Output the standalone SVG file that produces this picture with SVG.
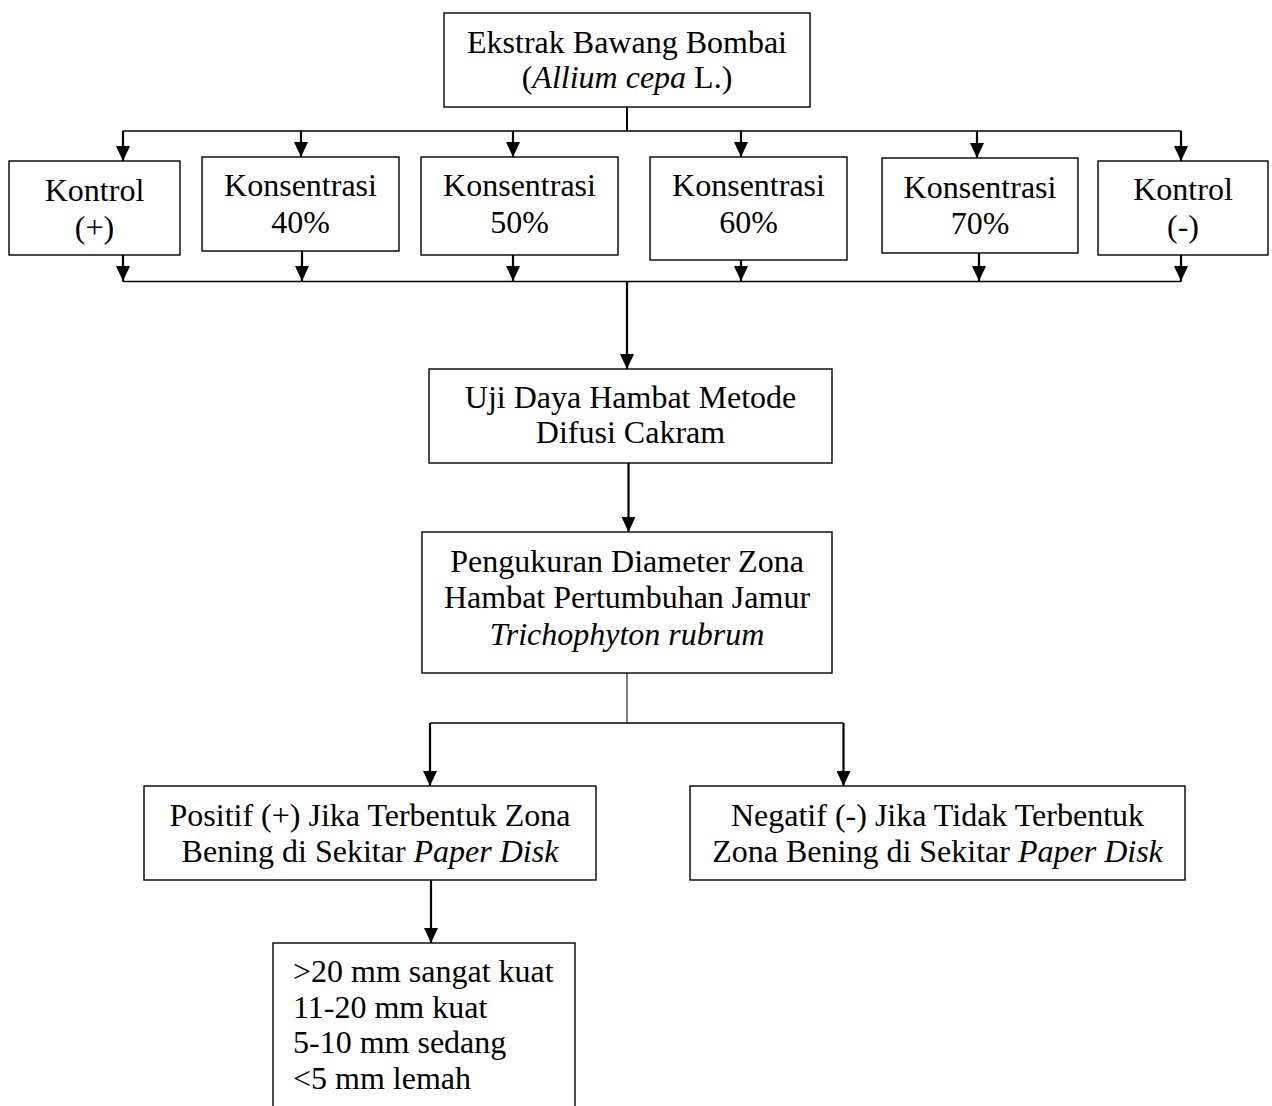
<svg xmlns="http://www.w3.org/2000/svg" width="1272" height="1106" viewBox="0 0 1272 1106">
<style>
  .box { fill: #ffffff; stroke: #000000; stroke-width: 1.4; }
  .t { font-family: "Liberation Serif", "Times New Roman", serif; font-size: 32px; fill: #000000; }
  .c { text-anchor: middle; }
  .i { font-style: italic; }
  .ln { fill: none; stroke: #000000; stroke-width: 1.4; }
  .ar { fill: none; stroke: #000000; stroke-width: 2.2; marker-end: url(#ah); }
</style>
<defs>
  <marker id="ah" viewBox="0 0 15 14" refX="15" refY="7" markerWidth="15" markerHeight="14" markerUnits="userSpaceOnUse" orient="auto">
    <path d="M0,0 L15,7 L0,14 Z" fill="#000000"/>
  </marker>
</defs>
<rect width="1272" height="1106" fill="#ffffff"/>

<g id="connectors">
  <line class="ln" x1="627" y1="107" x2="627" y2="131" style="stroke-width:2"/>
  <line class="ln" x1="122.5" y1="131" x2="1181.5" y2="131"/>
  <line class="ar" x1="123" y1="131" x2="123" y2="161"/>
  <line class="ar" x1="301" y1="131" x2="301" y2="157"/>
  <line class="ar" x1="513" y1="131" x2="513" y2="157"/>
  <line class="ar" x1="741" y1="131" x2="741" y2="157"/>
  <line class="ar" x1="977" y1="131" x2="977" y2="158"/>
  <line class="ar" x1="1181" y1="131" x2="1181" y2="161"/>
  <line class="ar" x1="123" y1="255" x2="123" y2="281"/>
  <line class="ar" x1="302" y1="251" x2="302" y2="281"/>
  <line class="ar" x1="513" y1="255" x2="513" y2="281"/>
  <line class="ar" x1="741" y1="260" x2="741" y2="281"/>
  <line class="ar" x1="979" y1="253" x2="979" y2="281"/>
  <line class="ar" x1="1181" y1="255" x2="1181" y2="281"/>
  <line class="ln" x1="122.5" y1="281.5" x2="1181.5" y2="281.5"/>
  <line class="ar" x1="627" y1="281" x2="627" y2="369"/>
  <line class="ar" x1="628.5" y1="463" x2="628.5" y2="532"/>
  <line class="ln" x1="627" y1="673" x2="627" y2="723" style="stroke-width:1"/>
  <line class="ln" x1="430" y1="723" x2="843.5" y2="723"/>
  <line class="ar" x1="430" y1="723" x2="430" y2="786"/>
  <line class="ar" x1="843.5" y1="723" x2="843.5" y2="786"/>
  <line class="ar" x1="431" y1="880" x2="431" y2="943"/>
</g>

<g id="node-ekstrak">
  <rect class="box" x="444" y="13" width="366" height="94"/>
  <text class="t c" x="627" y="53">Ekstrak Bawang Bombai</text>
  <text class="t c" x="627" y="88">(<tspan class="i">Allium cepa</tspan> L.)</text>
</g>

<g id="node-kontrol-pos">
  <rect class="box" x="9" y="161" width="171" height="94"/>
  <text class="t c" x="94.5" y="201">Kontrol</text>
  <text class="t c" x="94.5" y="238">(+)</text>
</g>

<g id="node-k40">
  <rect class="box" x="202" y="157" width="197" height="94"/>
  <text class="t c" x="300.5" y="196">Konsentrasi</text>
  <text class="t c" x="300.5" y="233">40%</text>
</g>

<g id="node-k50">
  <rect class="box" x="421" y="157" width="197" height="98"/>
  <text class="t c" x="519.5" y="196">Konsentrasi</text>
  <text class="t c" x="519.5" y="233">50%</text>
</g>

<g id="node-k60">
  <rect class="box" x="650" y="157" width="197" height="103"/>
  <text class="t c" x="748.5" y="196">Konsentrasi</text>
  <text class="t c" x="748.5" y="233">60%</text>
</g>

<g id="node-k70">
  <rect class="box" x="882" y="158" width="196" height="95"/>
  <text class="t c" x="980" y="198">Konsentrasi</text>
  <text class="t c" x="980" y="234">70%</text>
</g>

<g id="node-kontrol-neg">
  <rect class="box" x="1098" y="161" width="170" height="94"/>
  <text class="t c" x="1183" y="200">Kontrol</text>
  <text class="t c" x="1183" y="237">(-)</text>
</g>

<g id="node-uji">
  <rect class="box" x="429" y="369" width="403" height="94"/>
  <text class="t c" x="630.5" y="408">Uji Daya Hambat Metode</text>
  <text class="t c" x="630.5" y="443">Difusi Cakram</text>
</g>

<g id="node-pengukuran">
  <rect class="box" x="422" y="532" width="410" height="141"/>
  <text class="t c" x="627" y="572">Pengukuran Diameter Zona</text>
  <text class="t c" x="627" y="608">Hambat Pertumbuhan Jamur</text>
  <text class="t c i" x="627" y="645">Trichophyton rubrum</text>
</g>

<g id="node-positif">
  <rect class="box" x="144" y="786" width="452" height="94"/>
  <text class="t c" x="370" y="826">Positif (+) Jika Terbentuk Zona</text>
  <text class="t c" x="370" y="862">Bening di Sekitar <tspan class="i">Paper Disk</tspan></text>
</g>

<g id="node-negatif">
  <rect class="box" x="690" y="786" width="495" height="94"/>
  <text class="t c" x="937.5" y="826">Negatif (-) Jika Tidak Terbentuk</text>
  <text class="t c" x="937.5" y="862">Zona Bening di Sekitar <tspan class="i">Paper Disk</tspan></text>
</g>

<g id="node-kategori">
  <rect class="box" x="273" y="943" width="302" height="200"/>
  <text class="t" x="293" y="982">&gt;20 mm sangat kuat</text>
  <text class="t" x="293" y="1018">11-20 mm kuat</text>
  <text class="t" x="293" y="1053">5-10 mm sedang</text>
  <text class="t" x="293" y="1089">&lt;5 mm lemah</text>
</g>
</svg>
